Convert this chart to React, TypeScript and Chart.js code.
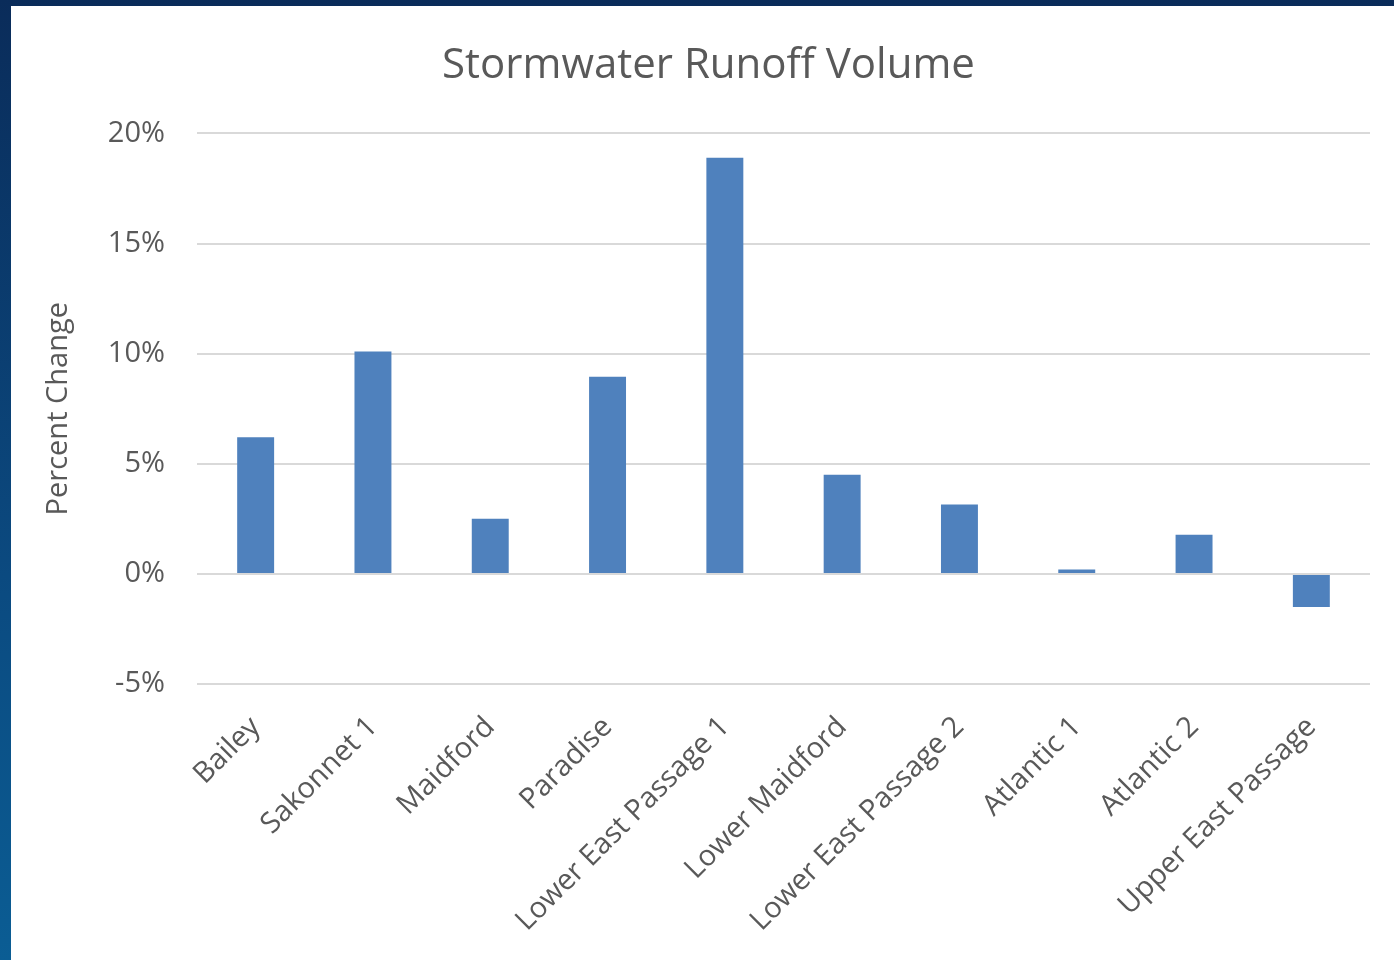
import React, { useEffect, useRef } from "react";
import { Chart, registerables } from "chart.js";

Chart.register(...registerables);

const categories = [
  "Bailey",
  "Sakonnet 1",
  "Maidford",
  "Paradise",
  "Lower East Passage 1",
  "Lower Maidford",
  "Lower East Passage 2",
  "Atlantic 1",
  "Atlantic 2",
  "Upper East Passage",
];
const percentChange = [6.2, 10.1, 2.5, 8.95, 18.9, 4.5, 3.15, 0.2, 1.78, -1.5];
const yTicks = [-5, 0, 5, 10, 15, 20];

const FONT = "'Open Sans', 'Noto Sans', sans-serif";
const TEXT = "#595959";

export default function App() {
  const ref = useRef<HTMLCanvasElement | null>(null);

  useEffect(() => {
    if (!ref.current) return;
    const chart = new Chart(ref.current, {
      type: "bar",
      data: {
        labels: categories,
        datasets: [
          {
            label: "Percent Change",
            data: percentChange,
            backgroundColor: "#4f81bd",
            borderWidth: 0,
            categoryPercentage: 1,
            barPercentage: 0.315,
          },
        ],
      },
      options: {
        animation: false,
        responsive: false,
        maintainAspectRatio: false,
        layout: { padding: { left: 36, right: 24, top: 0, bottom: 0 } },
        plugins: {
          legend: { display: false },
          tooltip: { enabled: false },
          title: {
            display: true,
            text: "Stormwater Runoff Volume",
            color: TEXT,
            font: { family: FONT, size: 42, weight: "normal" },
            padding: { top: 35, bottom: 42 },
          },
        },
        scales: {
          x: {
            grid: { display: false, drawTicks: false },
            border: { display: false },
            ticks: {
              color: TEXT,
              font: { family: FONT, size: 29 },
              maxRotation: 45,
              minRotation: 45,
              autoSkip: false,
              padding: 26,
            },
            afterFit: (scale: any) => {
              scale.height = 276;
            },
          },
          y: {
            min: -5,
            max: 20,
            afterBuildTicks: (scale: any) => {
              scale.ticks = yTicks.map((v) => ({ value: v }));
            },
            grid: { color: "#d9d9d9", lineWidth: 2, drawTicks: false },
            border: { display: false },
            ticks: {
              color: TEXT,
              font: { family: FONT, size: 29 },
              padding: 32,
              callback: (v: any) => `${v}%`,
            },
            title: {
              display: true,
              text: "Percent Change",
              color: TEXT,
              font: { family: FONT, size: 29, lineHeight: 0.8 },
              padding: { top: 0, bottom: 10 },
            },
            afterFit: (scale: any) => {
              scale.width = 150;
            },
          },
        },
      },
    });
    return () => chart.destroy();
  }, []);

  return (
    <div
      style={{
        position: "absolute",
        left: 0,
        top: 0,
        width: 1394,
        height: 960,
        background: "linear-gradient(180deg, #0a2c5a 0%, #0b4a80 60%, #0b5d94 100%)",
        overflow: "hidden",
      }}
    >
      <div
        style={{
          position: "absolute",
          left: 11,
          top: 6,
          width: 1383,
          height: 954,
          background: "#ffffff",
        }}
      >
        <canvas ref={ref} width={1383} height={954} style={{ display: "block" }} />
      </div>
    </div>
  );
}
